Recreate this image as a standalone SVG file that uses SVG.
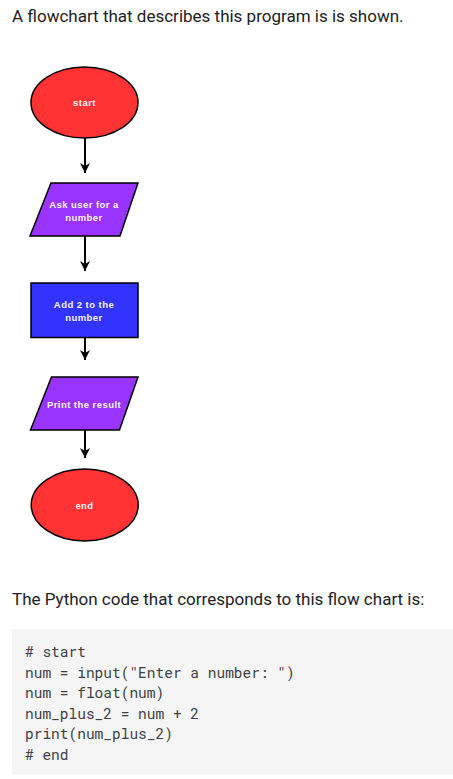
<svg xmlns="http://www.w3.org/2000/svg" width="453" height="779" viewBox="0 0 453 779">
<style>
.p{font-family:Roboto,"Liberation Sans",sans-serif;font-size:17px;fill:#202124}
.n{stroke:#000;stroke-width:1.5}
.lbl{font-family:"Liberation Sans",Arial,sans-serif;font-weight:bold;font-size:9.5px;letter-spacing:0.45px;fill:#f4f4f8;text-anchor:middle}
.code{font-family:"Roboto Mono","DejaVu Sans Mono","Liberation Mono",monospace;font-size:14.5px;fill:#3c4043}
.c{stroke:#000;stroke-width:2;fill:none}
</style>
<defs>
<marker id="ah" markerWidth="11" markerHeight="11" refX="10" refY="5" orient="auto" markerUnits="userSpaceOnUse">
<path d="M0,0 L10,5 L0,10 L3,5 Z" fill="#000"/>
</marker>
</defs>
<rect width="453" height="779" fill="#fff"/>
<text class="p" x="12" y="22">A flowchart that describes this program is is shown.</text>

<g id="connectors">
<line class="c" x1="85" y1="138" x2="85" y2="173" marker-end="url(#ah)"/>
<line class="c" x1="85" y1="236" x2="85" y2="271" marker-end="url(#ah)"/>
<line class="c" x1="85" y1="338" x2="85" y2="360" marker-end="url(#ah)"/>
<line class="c" x1="85" y1="430" x2="85" y2="458" marker-end="url(#ah)"/>
</g>

<g id="start">
<ellipse class="n" cx="84.5" cy="102.5" rx="53.5" ry="35.5" fill="#ff3333"/>
<text class="lbl" x="84.5" y="106">start</text>
</g>
<g id="ask">
<polygon class="n" points="51,183 138,183 120,236 30,236" fill="#9933ff"/>
<text class="lbl" x="84" y="207.5">Ask user for a</text>
<text class="lbl" x="84" y="220.5">number</text>
</g>
<g id="add">
<rect class="n" x="31" y="283" width="107" height="54.5" fill="#3333ff"/>
<text class="lbl" x="84" y="307.5">Add 2 to the</text>
<text class="lbl" x="84" y="320.5">number</text>
</g>
<g id="print">
<polygon class="n" points="51.5,377 138,377 119.5,430 30.5,430" fill="#9933ff"/>
<text class="lbl" x="84" y="407.5">Print the result</text>
</g>
<g id="end">
<ellipse class="n" cx="84.7" cy="505" rx="53.5" ry="36" fill="#ff3333"/>
<text class="lbl" x="84.5" y="509">end</text>
</g>

<text class="p" x="12" y="605">The Python code that corresponds to this flow chart is:</text>
<rect x="12" y="629" width="441" height="145.5" fill="#f5f5f5"/>
<text class="code" x="25" y="657">
<tspan x="25" y="657"># start</tspan>
<tspan x="25" y="677.5">num = input("Enter a number: ")</tspan>
<tspan x="25" y="698">num = float(num)</tspan>
<tspan x="25" y="718.5">num_plus_2 = num + 2</tspan>
<tspan x="25" y="739">print(num_plus_2)</tspan>
<tspan x="25" y="759.5"># end</tspan>
</text>
</svg>
